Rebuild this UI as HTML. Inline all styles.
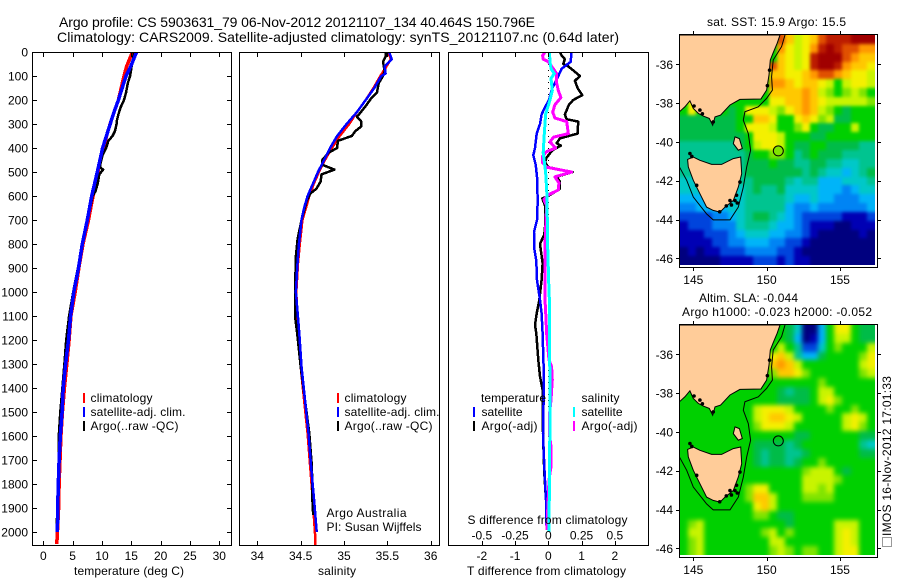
<!DOCTYPE html>
<html>
<head>
<meta charset="utf-8">
<title>Argo profile chart</title>
<style>
html,body{margin:0;padding:0;background:#fff;}
svg{display:block;}
text{font-family:"Liberation Sans",sans-serif;font-size:12px;fill:#000;}
.title{font-size:14px;}
.curve{fill:none;shape-rendering:crispEdges;stroke-linejoin:round;}
.frame{fill:none;stroke:#000;stroke-width:1;shape-rendering:crispEdges;}
.tick{stroke:#000;stroke-width:1;shape-rendering:crispEdges;}
</style>
</head>
<body>
<svg id="chart" xmlns="http://www.w3.org/2000/svg" width="900" height="580" viewBox="0 0 900 580">
  <rect x="0" y="0" width="900" height="580" fill="#fff"/>
  <defs>
    <clipPath id="clip-p1"><rect x="33" y="53" width="198" height="492"/></clipPath>
    <clipPath id="clip-p2"><rect x="240" y="53" width="199" height="492"/></clipPath>
    <clipPath id="clip-p3"><rect x="449" y="53" width="199" height="492"/></clipPath>
    <clipPath id="clip-m1"><rect x="680" y="35" width="195" height="230"/></clipPath>
    <clipPath id="clip-m2"><rect x="680" y="325" width="195" height="230"/></clipPath>
    <filter id="smooth-sst" filterUnits="userSpaceOnUse" x="640" y="0" width="260" height="300" color-interpolation-filters="sRGB"><feGaussianBlur stdDeviation="1.6"/></filter>
    <filter id="smooth-sla" filterUnits="userSpaceOnUse" x="640" y="290" width="260" height="290" color-interpolation-filters="sRGB"><feGaussianBlur stdDeviation="2.5"/></filter>
  </defs>

  <text class="title" x="59" y="27" textLength="476">Argo profile: CS 5903631_79 06-Nov-2012 20121107_134 40.464S 150.796E</text>
  <text class="title" x="57" y="42" textLength="562">Climatology: CARS2009. Satellite-adjusted climatology: synTS_20121107.nc (0.64d later)</text>

  <g id="panel1"></g>
  <g id="panel2"></g>
  <g id="panel3"></g>
  <g id="map1"></g>
  <g id="map2"></g>

  <text x="74" y="575" textLength="110">temperature (deg C)</text>
  <text x="318" y="575" textLength="38">salinity</text>
  <text x="467" y="575" textLength="159">T difference from climatology</text>
  <text x="467.5" y="524" textLength="160">S difference from climatology</text>

  <g>
    <rect x="83" y="393" width="2" height="10" fill="#ff0000"/>
    <rect x="83" y="407" width="2" height="10" fill="#0000ff"/>
    <rect x="83" y="421" width="2" height="10" fill="#000"/>
    <text x="90.5" y="402" textLength="62">climatology</text>
    <text x="90.5" y="416" textLength="95">satellite-adj. clim.</text>
    <text x="90.5" y="430" textLength="88">Argo(..raw -QC)</text>
  </g>
  <g>
    <rect x="337" y="393" width="2" height="10" fill="#ff0000"/>
    <rect x="337" y="407" width="2" height="10" fill="#0000ff"/>
    <rect x="337" y="421" width="2" height="10" fill="#000"/>
    <text x="344.5" y="402" textLength="62">climatology</text>
    <text x="344.5" y="416" textLength="95">satellite-adj. clim.</text>
    <text x="344.5" y="430" textLength="88">Argo(..raw -QC)</text>
  </g>
  <text x="326.5" y="517" textLength="80">Argo Australia</text>
  <text x="326.5" y="531" textLength="95">PI: Susan Wijffels</text>
  <g>
    <text x="481" y="402" textLength="65">temperature</text>
    <text x="581.5" y="402" textLength="38">salinity</text>
    <rect x="473" y="407" width="2" height="10" fill="#0000ff"/>
    <rect x="473" y="421" width="2" height="10" fill="#000"/>
    <rect x="573" y="407" width="2" height="10" fill="#00ffff"/>
    <rect x="573" y="421" width="2" height="10" fill="#ff00ff"/>
    <text x="481.5" y="416" textLength="41">satellite</text>
    <text x="481.5" y="430" textLength="56">Argo(-adj)</text>
    <text x="581.5" y="416" textLength="41">satellite</text>
    <text x="581.5" y="430" textLength="56">Argo(-adj)</text>
  </g>

  <text x="707" y="26" textLength="139">sat. SST: 15.9 Argo: 15.5</text>
  <text x="699" y="302" textLength="99">Altim. SLA: -0.044</text>
  <text x="682" y="316" textLength="190">Argo h1000: -0.023 h2000: -0.052</text>

  <rect x="882.5" y="537.5" width="9" height="9" fill="none" stroke="#333" stroke-width="1" stroke-dasharray="1 1"/>
  <text transform="translate(891 536) rotate(-90)" x="0" y="0" textLength="160">IMOS 16-Nov-2012 17:01:33</text>
</svg>

<script>
// ---------- depth axis ----------
const depthTicks = [0,100,200,300,400,500,600,700,800,900,1000,1100,1200,1300,1400,1500,1600,1700,1800,1900,2000];

// ---------- temperature panel ----------
const tempTicks = [0,5,10,15,20,25,30];
const tempClimDepth = [0,60,100,200,254,337,407,476,546,615,700,796,893,1004,1100,1200,1300,1400,1500,1600,1700,1800,1900,2000,2050];
const tempClim = [15.2,14.2,13.75,12.8,12.0,10.9,10.2,9.5,9.0,8.35,7.7,6.8,6.1,5.4,4.7,4.4,4.0,3.6,3.25,3.0,2.85,2.7,2.6,2.4,2.3];
const tempSatDepth = [0,60,100,200,254,300,400,500,600,700,800,900,1000,1100,1200,1300,1400,1500,1600,1700,1800,1900,2000];
const tempSat = [15.9,14.9,14.1,12.8,12.0,11.4,10.1,9.2,8.25,7.5,6.65,6.0,5.2,4.65,4.3,3.8,3.4,3.2,2.9,2.7,2.55,2.45,2.4];
const tempArgoDepth = [0,30,60,100,130,170,200,230,260,290,300,330,350,370,400,430,470,480,490,510,550,580,600,700,800,900,1000,1100,1200,1300,1400,1500,1600,1700,1800,1900,1950,2000];
const tempArgo = [15.45,15.3,15.05,14.8,14.4,14.1,13.75,13.2,12.8,12.5,12.5,12.2,11.8,11.1,10.7,10.1,9.7,9.65,10.2,9.55,9.25,8.9,8.4,7.55,6.6,5.9,5.1,4.4,3.9,3.6,3.25,2.9,2.65,2.65,2.55,2.55,2.3,2.3];

// ---------- salinity panel ----------
const salTicks = [34,34.5,35,35.5,36];
const salClimDepth = [0,30,60,100,150,200,250,300,350,400,450,500,550,600,650,700,800,880,1000,1172,1311,1450,1589,1728,1867,2006,2057];
const salClim = [35.51,35.54,35.49,35.42,35.34,35.25,35.15,35.06,34.95,34.86,34.78,34.71,34.65,34.6,34.56,34.52,34.49,34.47,34.45,34.47,34.5,34.54,34.58,34.61,34.64,34.665,34.67];
const salSatDepth = [0,30,60,90,100,150,200,250,300,350,400,450,500,550,600,650,700,800,900,1000,1172,1311,1450,1589,1728,1867,2000];
const salSat = [35.52,35.55,35.47,35.48,35.43,35.35,35.25,35.15,35.03,34.92,34.84,34.77,34.7,34.64,34.58,34.54,34.51,34.48,34.46,34.445,34.485,34.51,34.55,34.59,34.62,34.655,34.685];
const salArgoDepth = [0,20,40,80,100,130,170,190,210,230,270,290,310,330,350,370,400,420,450,470,490,510,540,570,590,620,700,780,850,1000,1100,1172,1311,1450,1589,1728,1867,1930];
const salArgo = [35.48,35.48,35.45,35.47,35.45,35.4,35.38,35.32,35.28,35.24,35.15,35.2,35.2,35.13,35.09,34.93,34.92,34.82,34.75,34.75,34.89,34.74,34.73,34.68,34.61,34.57,34.51,34.465,34.445,34.435,34.435,34.46,34.5,34.55,34.6,34.63,34.635,34.645];

// ---------- difference panel ----------
const tDiffTicks = [-2,-1,0,1,2];
const sDiffTicks = [-0.5,-0.25,0,0.25,0.5];
const tDiffTickLabels = ["-2","-1","0","1","2"];
const sDiffTickLabels = ["-0.5","-0.25","0","0.25","0.5"];
const tSatDepth = [0,30,40,70,100,150,200,230,260,300,340,400,430,470,520,620,700,750,820,870,950,1033,1089,1172,1311,1450,1589,1728,1867,1991];
const tSatDiff = [0.70,0.68,0.68,0.4,0.3,0.12,0.02,-0.1,-0.2,-0.25,-0.35,-0.4,-0.45,-0.38,-0.34,-0.32,-0.34,-0.43,-0.42,-0.36,-0.34,-0.25,-0.2,-0.17,-0.14,-0.14,-0.16,-0.12,-0.07,-0.05];
const tArgoDepth = [0,15,30,50,60,80,100,120,150,180,200,220,260,280,290,340,360,380,390,410,440,460,480,500,520,540,570,600,610,640,730,760,800,880,950,1033,1089,1137,1172,1283,1352,1408,1519,1630,1755,1867,1991];
const tArgoDiff = [0.35,0.4,0.5,0.45,0.6,0.78,0.95,0.8,0.88,1.02,0.75,0.62,0.5,0.55,0.9,0.88,0.35,0.25,0.38,0.12,-0.05,-0.1,0,0.73,0.25,0.35,0.35,0,-0.18,-0.1,-0.1,-0.12,-0.25,-0.17,-0.2,-0.27,-0.35,-0.4,-0.36,-0.3,-0.25,-0.17,-0.17,-0.15,-0.12,-0.07,-0.05];
const sArgoDepth = [0,15,30,40,90,130,160,190,220,250,275,290,340,355,375,400,415,435,460,480,500,520,545,575,595,615,640,800,1033,1102,1172,1283,1311,1366,1450,1505,1589,1644,1728,1783,1922,1991];
const sArgoDiff = [-0.025,-0.043,-0.038,0,0.063,0.063,0.075,0.095,0.05,0.033,0.05,0.138,0.15,0.038,0.013,0.055,-0.013,-0.045,-0.045,-0.013,0.175,0.05,0.08,0.075,0,-0.033,-0.013,-0.025,-0.025,-0.018,-0.013,0.005,0.025,0.03,0.02,0.01,0.008,0.02,0.02,0.005,-0.005,-0.01];
const sSatDepth = [0,40,70,90,110,160,200,260,340,420,500,600,800,1000,1033,1500,2000];
const sSatDiff = [0.008,0.013,0.02,0.045,0.02,0.03,0.013,-0.02,-0.03,-0.038,-0.02,-0.01,-0.005,0.005,0.008,0.013,0.005];

// ---------- maps ----------
const mapLonTicks = [145,150,155];
const mapLatTicks = [-36,-38,-40,-42,-44,-46];
const colorLevels = {"0":"#00007f","1":"#0000b4","2":"#0044dc","3":"#0084f4","4":"#00b4f8","5":"#00c8c8","6":"#00c490","7":"#00bc48","8":"#00d000","9":"#80e400","a":"#c8f400","b":"#f4f000","c":"#ffc800","d":"#ff9800","e":"#e05000","f":"#bc1c00","g":"#a00000"};
const sstRows = [
"888888888888ecabcefffggg",
"888888888888dbabdfgfeedd",
"888888888888cbabfgggedcc",
"88888888888ecbabfggfdccb",
"88888888888ccbbcdeedcbba",
"88888888888ddcbccba8abba",
"88888888888ccccdca989a98",
"8b888888888bbccdcbaaaaa9",
"8b888878bbba9bcdca987888",
"777777788ccb88bcb9a77888",
"77777778bbba889b87788a88",
"777777778bbba88877888888",
"666666678abba87788777766",
"666666667889986787776666",
"666666667778776677665566",
"666666667777777676554567",
"555666666777765664445556",
"555555556766755554443455",
"444455556666654454433344",
"334444556666643343333334",
"222233456776543222221112",
"122233356665443211100111",
"111222345554433210000010",
"111122334443322100000000",
"010112223333221000000000",
"000001111222121100000000"];
const slaRows = [
"888888888888875004 8bb877",
"888888888888874014 8aa877",
"888888888888a86225898 88a",
"88888888888bca644788889b",
"88888888888cdca8888888ab",
"88888888888 9ccb988888 89a",
"888888888888888889888888",
"888888888888767 78aa88888",
"888888888888777 78ab98888",
"888888888abbba88889889 88",
"888888888abccba88888aba8",
"8888888889bbba888888ab98",
"888888888888887788888877",
"888888888777767888888865",
"888888888767766788888877",
"888888888767767889888888",
"88888888888888 89aaa87888",
"88888888888888 8aaaa98888",
"888888889bb8888aa9a88888",
"888888889cca888999988888",
"888888888bca888888888888",
"888888888998778888888888",
"89a8888888888788888aaa88",
"8aa88888889a898888 8aba88",
"89a88888888aa88888 8aba88",
"89a888888889a9899 88abb88"].map(r => r.replace(/ /g, ""));
const mainlandLon = [144.05,150.91,150.72,150.45,150.25,150.16,150.0,149.61,148.18,147.5,146.86,146.48,146.32,146.09,145.68,145.34,145.0,144.77,144.43,144.05];
const mainlandLat = [-34.49,-34.49,-34.91,-35.4,-35.78,-36.55,-37.33,-37.79,-37.81,-38.10,-38.62,-38.71,-39.14,-38.79,-38.67,-38.53,-38.28,-37.88,-38.19,-38.45];
const tasmaniaLon = [144.61,145.0,145.45,146.25,146.93,147.73,148.23,148.30,148.07,147.73,147.16,146.82,146.36,145.91,145.45,145.0,144.66];
const tasmaniaLat = [-40.90,-40.78,-40.95,-41.16,-41.16,-40.86,-40.78,-41.64,-42.33,-43.02,-43.36,-43.62,-43.53,-43.36,-42.67,-41.98,-41.29];
const flindersLon = [147.84,148.14,148.34,148.07,147.73];
const flindersLat = [-39.74,-39.83,-40.34,-40.43,-40.09];
const contourLon = [151.25,151.02,150.45,150.34,150.39,150.0,149.43,148.52,148.41,148.75,148.91,148.64,148.41,148.07,147.5,146.36,145.91,145.0,144.55,144.05];
const contourLat = [-34.49,-35.09,-35.78,-36.64,-37.33,-37.76,-38.19,-38.45,-38.88,-39.57,-40.43,-41.29,-42.33,-43.36,-44.02,-44.02,-43.71,-42.84,-41.98,-41.29];
const isletLon = [145.45,146.36,147.5,147.84,145.23,148.18,144.77,145.62,147.25,148.0,147.6,147.95,146.8,145.05,144.9,150.2,150.05];
const isletLat = [-38.36,-38.97,-43.02,-43.02,-42.24,-42.07,-40.6,-38.55,-43.3,-43.15,-43.25,-42.75,-43.6,-38.15,-40.75,-36.3,-37.1];
const argoLon = [150.796];
const argoLat = [-40.464];
const argoSstLevel = ["9"];

// ---------- helpers ----------
const SVGNS = "http://www.w3.org/2000/svg";
function mk(parent, tag, attrs, name) {
  const el = document.createElementNS(SVGNS, tag);
  for (const k in attrs) el.setAttribute(k, attrs[k]);
  
  
  parent.appendChild(el);
  return el;
}
function label(parent, x, y, str, anchor, name) {
  const el = mk(parent, 'text', {x: x, y: y, 'text-anchor': anchor}, name);
  el.textContent = str;
  return el;
}
function yDepth(d) { return 52 + d * 0.24; }
function curve(parent, xs, ds, xf, color, width, clipId, name) {
  const pts = xs.map((v, i) => xf(v).toFixed(1) + "," + yDepth(ds[i]).toFixed(1)).join(" ");
  mk(parent, 'polyline', {points: pts, stroke: color, 'stroke-width': width, class: 'curve', 'clip-path': 'url(#' + clipId + ')'}, name);
}
function frame(parent, x0, x1, name) {
  mk(parent, 'rect', {x: x0 + 0.5, y: 52.5, width: x1 - x0, height: 493, class: 'frame'}, name);
}
function xTicks(parent, ticks, xf, labels) {
  ticks.forEach((t, i) => {
    const x = Math.round(xf(t)) + 0.5;
    mk(parent, 'line', {x1: x, x2: x, y1: 52.5, y2: 57, class: 'tick'}, 'x-tick-top');
    mk(parent, 'line', {x1: x, x2: x, y1: 541, y2: 545.5, class: 'tick'}, 'x-tick-bottom');
    label(parent, xf(t), 560, labels ? labels[i] : String(t), 'middle', 'x-tick-label');
  });
}

// ---------- panel 1 ----------
const p1 = document.getElementById('panel1');
const xTemp = t => 43.3 + t * 5.867;
curve(p1, tempClim, tempClimDepth, xTemp, '#ff0000', 3.5, 'clip-p1', 'temperature-climatology-line');
curve(p1, tempArgo, tempArgoDepth, xTemp, '#000000', 2.5, 'clip-p1', 'temperature-argo-line');
curve(p1, tempSat, tempSatDepth, xTemp, '#0000ff', 3.5, 'clip-p1', 'temperature-satellite-line');
frame(p1, 32, 231, 'temperature-panel-frame');
xTicks(p1, tempTicks, xTemp);
depthTicks.forEach(d => {
  const y = Math.round(yDepth(d)) + 0.5;
  if (d > 0) {
    mk(p1, 'line', {x1: 32.5, x2: 37, y1: y, y2: y, class: 'tick'}, 'depth-tick-left');
    mk(p1, 'line', {x1: 227, x2: 231.5, y1: y, y2: y, class: 'tick'}, 'depth-tick-right');
  }
  label(p1, 28, yDepth(d) + 4.5, String(d), 'end', 'depth-tick-label');
});

// ---------- panel 2 ----------
const p2 = document.getElementById('panel2');
const xSal = s => 257.3 + (s - 34) * 86.7;
curve(p2, salClim, salClimDepth, xSal, '#ff0000', 2.5, 'clip-p2', 'salinity-climatology-line');
curve(p2, salArgo, salArgoDepth, xSal, '#000000', 2.5, 'clip-p2', 'salinity-argo-line');
curve(p2, salSat, salSatDepth, xSal, '#0000ff', 2.5, 'clip-p2', 'salinity-satellite-line');
frame(p2, 239, 439, 'salinity-panel-frame');
xTicks(p2, salTicks, xSal);

// ---------- panel 3 ----------
const p3 = document.getElementById('panel3');
const xT = t => 548.3 + t * 33.25;
const xS = s => 548.3 + s * 133;
mk(p3, 'line', {x1: 548.5, x2: 548.5, y1: yDepth(0), y2: yDepth(1995), stroke: '#000', 'stroke-width': 1, 'stroke-dasharray': '1 5'}, 'zero-difference-line');
curve(p3, tArgoDiff, tArgoDepth, xT, '#000000', 2.5, 'clip-p3', 't-difference-argo-line');
curve(p3, tSatDiff, tSatDepth, xT, '#0000ff', 2.5, 'clip-p3', 't-difference-satellite-line');
curve(p3, sArgoDiff, sArgoDepth, xS, '#ff00ff', 3, 'clip-p3', 's-difference-argo-line');
curve(p3, sSatDiff, sSatDepth, xS, '#00ffff', 3, 'clip-p3', 's-difference-satellite-line');
frame(p3, 448, 648, 'difference-panel-frame');
xTicks(p3, tDiffTicks, xT, tDiffTickLabels);
sDiffTicks.forEach((s, i) => {
  label(p3, xS(s), 539.5, sDiffTickLabels[i], 'middle', 's-difference-tick-label');
});

// ---------- maps ----------
function drawMap(group, rows, top, clipId, prefix, filled) {
  const lonX = lon => 693.3 + (lon - 145) * 14.667;
  const latY = lat => top + 30.3 + (-36 - lat) * 19.4;
  const imgLeft = lonX(144.05), imgTop = top + 1, imgW = 195.7, imgH = 230;
  const nR = rows.length;
  const clip = 'url(#' + clipId + ')';
  const clipped = mk(group, 'g', {'clip-path': clip}, prefix + '-heatmap');
  const cellGroup = mk(clipped, 'g', {filter: 'url(#smooth-' + prefix + ')'}, prefix + '-heatmap-cells');
  rows.forEach((row, r) => {
    const nC = row.length;
    for (let c = 0; c < nC; c++) {
      let x0 = Math.round(imgLeft + c * imgW / nC);
      let x1 = Math.round(imgLeft + (c + 1) * imgW / nC);
      let y0 = Math.round(imgTop + r * imgH / nR);
      let y1 = Math.round(imgTop + (r + 1) * imgH / nR);
      if (c === 0) x0 -= 12;
      if (c === nC - 1) x1 += 12;
      if (r === 0) y0 -= 12;
      if (r === nR - 1) y1 += 12;
      mk(cellGroup, 'rect', {x: x0, y: y0, width: x1 - x0, height: y1 - y0, fill: colorLevels[row[c]], 'shape-rendering': 'crispEdges'}, prefix + '-heatmap-cell');
    }
  });
  const poly = (lons, lats) => lons.map((v, i) => lonX(v).toFixed(1) + ',' + latY(lats[i]).toFixed(1)).join(' ');
  mk(group, 'polygon', {points: poly(mainlandLon, mainlandLat), fill: '#ffcc99', stroke: '#000', 'stroke-width': 1, 'clip-path': clip}, prefix + '-mainland');
  mk(group, 'polygon', {points: poly(tasmaniaLon, tasmaniaLat), fill: '#ffcc99', stroke: '#000', 'stroke-width': 1, 'clip-path': clip}, prefix + '-tasmania');
  mk(group, 'polygon', {points: poly(flindersLon, flindersLat), fill: '#ffcc99', stroke: '#000', 'stroke-width': 1, 'clip-path': clip}, prefix + '-flinders-island');
  mk(group, 'polyline', {points: poly(contourLon, contourLat), fill: 'none', stroke: '#000', 'stroke-width': 1, 'clip-path': clip}, prefix + '-shelf-contour');
  isletLon.forEach((v, i) => {
    mk(group, 'circle', {cx: lonX(v), cy: latY(isletLat[i]), r: 1.8, fill: '#000', 'clip-path': clip}, prefix + '-islet');
  });
  mk(group, 'circle', {cx: lonX(argoLon[0]), cy: latY(argoLat[0]), r: 5, fill: filled ? colorLevels[argoSstLevel[0]] : 'none', stroke: '#000', 'stroke-width': 1}, prefix + '-argo-location');
  mk(group, 'rect', {x: 679.5, y: top + 0.5, width: 198, height: 233, class: 'frame'}, prefix + '-frame');
  mapLonTicks.forEach(lon => {
    const x = Math.round(lonX(lon)) + 0.5;
    mk(group, 'line', {x1: x, x2: x, y1: top - 3, y2: top + 0.5, class: 'tick'}, prefix + '-lon-tick-top');
    mk(group, 'line', {x1: x, x2: x, y1: top + 233.5, y2: top + 237, class: 'tick'}, prefix + '-lon-tick-bottom');
    label(group, lonX(lon), top + 250, String(lon), 'middle', prefix + '-lon-tick-label');
  });
  mapLatTicks.forEach(lat => {
    const y = Math.round(latY(lat)) + 0.5;
    mk(group, 'line', {x1: 676, x2: 679.5, y1: y, y2: y, class: 'tick'}, prefix + '-lat-tick-left');
    mk(group, 'line', {x1: 877.5, x2: 881, y1: y, y2: y, class: 'tick'}, prefix + '-lat-tick-right');
    label(group, 673, latY(lat) + 4.5, String(lat), 'end', prefix + '-lat-tick-label');
  });
}
drawMap(document.getElementById('map1'), sstRows, 34, 'clip-m1', 'sst', true);
drawMap(document.getElementById('map2'), slaRows, 324, 'clip-m2', 'sla', false);
</script>
</body>
</html>
